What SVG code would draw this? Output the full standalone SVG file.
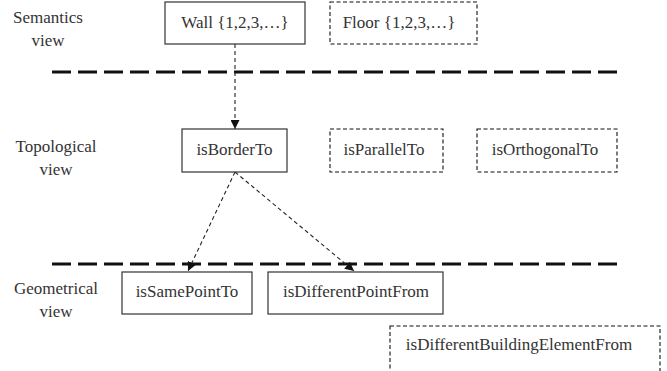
<svg xmlns="http://www.w3.org/2000/svg" width="667" height="371" viewBox="0 0 667 371">
<style>
.lbl{font-size:17px;fill:#333}
.t{font-size:17px;fill:#333}
.solid{fill:#fff;stroke:#333;stroke-width:1.2}
.dash{fill:#fff;stroke:#111;stroke-width:1.1;stroke-dasharray:4 2.5}
.sep{stroke:#111;stroke-width:3;stroke-dasharray:19 7}
.conn{fill:none;stroke:#222;stroke-width:1.1;stroke-dasharray:4 3}
</style>
<defs>
<marker id="ah" viewBox="0 0 10 10" refX="10" refY="5" markerWidth="9" markerHeight="9" markerUnits="userSpaceOnUse" orient="auto">
<path d="M0,0 L10,5 L0,10 z" fill="#111"/>
</marker>
</defs>
<rect width="667" height="371" fill="#fff"/>
<g font-family="'Liberation Serif', 'DejaVu Serif', serif">
<g id="labels">
<text class="lbl" x="48" y="23" text-anchor="middle">Semantics</text>
<text class="lbl" x="48" y="46" text-anchor="middle">view</text>
<text class="lbl" x="56" y="152" text-anchor="middle">Topological</text>
<text class="lbl" x="56" y="175" text-anchor="middle">view</text>
<text class="lbl" x="56" y="294" text-anchor="middle">Geometrical</text>
<text class="lbl" x="56" y="317" text-anchor="middle">view</text>
</g>
<g id="separators">
<line class="sep" x1="52" y1="72" x2="618" y2="72"/>
<line class="sep" x1="52" y1="264" x2="618" y2="264"/>
</g>
<g id="connectors">
<line class="conn" x1="235" y1="44" x2="235" y2="129" marker-end="url(#ah)"/>
<line class="conn" x1="235" y1="172" x2="188" y2="271" marker-end="url(#ah)"/>
<line class="conn" x1="235" y1="172" x2="354" y2="271" marker-end="url(#ah)"/>
</g>
<g id="wall">
<rect class="solid" x="165" y="2" width="140" height="42"/>
<text class="t" x="235" y="28" text-anchor="middle">Wall {1,2,3,…}</text>
</g>
<g id="floor">
<rect class="dash" x="330" y="2" width="147" height="42"/>
<text class="t" x="399" y="28" text-anchor="middle">Floor {1,2,3,…}</text>
</g>
<g id="isBorderTo">
<rect class="solid" x="182" y="129" width="105" height="43"/>
<text class="t" x="234.5" y="155" text-anchor="middle">isBorderTo</text>
</g>
<g id="isParallelTo">
<rect class="dash" x="330" y="129" width="113" height="43"/>
<text class="t" x="384" y="155" text-anchor="middle">isParallelTo</text>
</g>
<g id="isOrthogonalTo">
<rect class="dash" x="477" y="129" width="140" height="43"/>
<text class="t" x="545" y="155" text-anchor="middle">isOrthogonalTo</text>
</g>
<g id="isSamePointTo">
<rect class="solid" x="122" y="272" width="130" height="42"/>
<text class="t" x="187" y="297" text-anchor="middle">isSamePointTo</text>
</g>
<g id="isDifferentPointFrom">
<rect class="solid" x="268" y="272" width="175" height="42"/>
<text class="t" x="356" y="297" text-anchor="middle">isDifferentPointFrom</text>
</g>
<g id="isDifferentBuildingElementFrom">
<rect class="dash" x="390" y="326" width="270" height="60"/>
<text class="t" x="519" y="350" text-anchor="middle">isDifferentBuildingElementFrom</text>
</g>
</g>
</svg>
